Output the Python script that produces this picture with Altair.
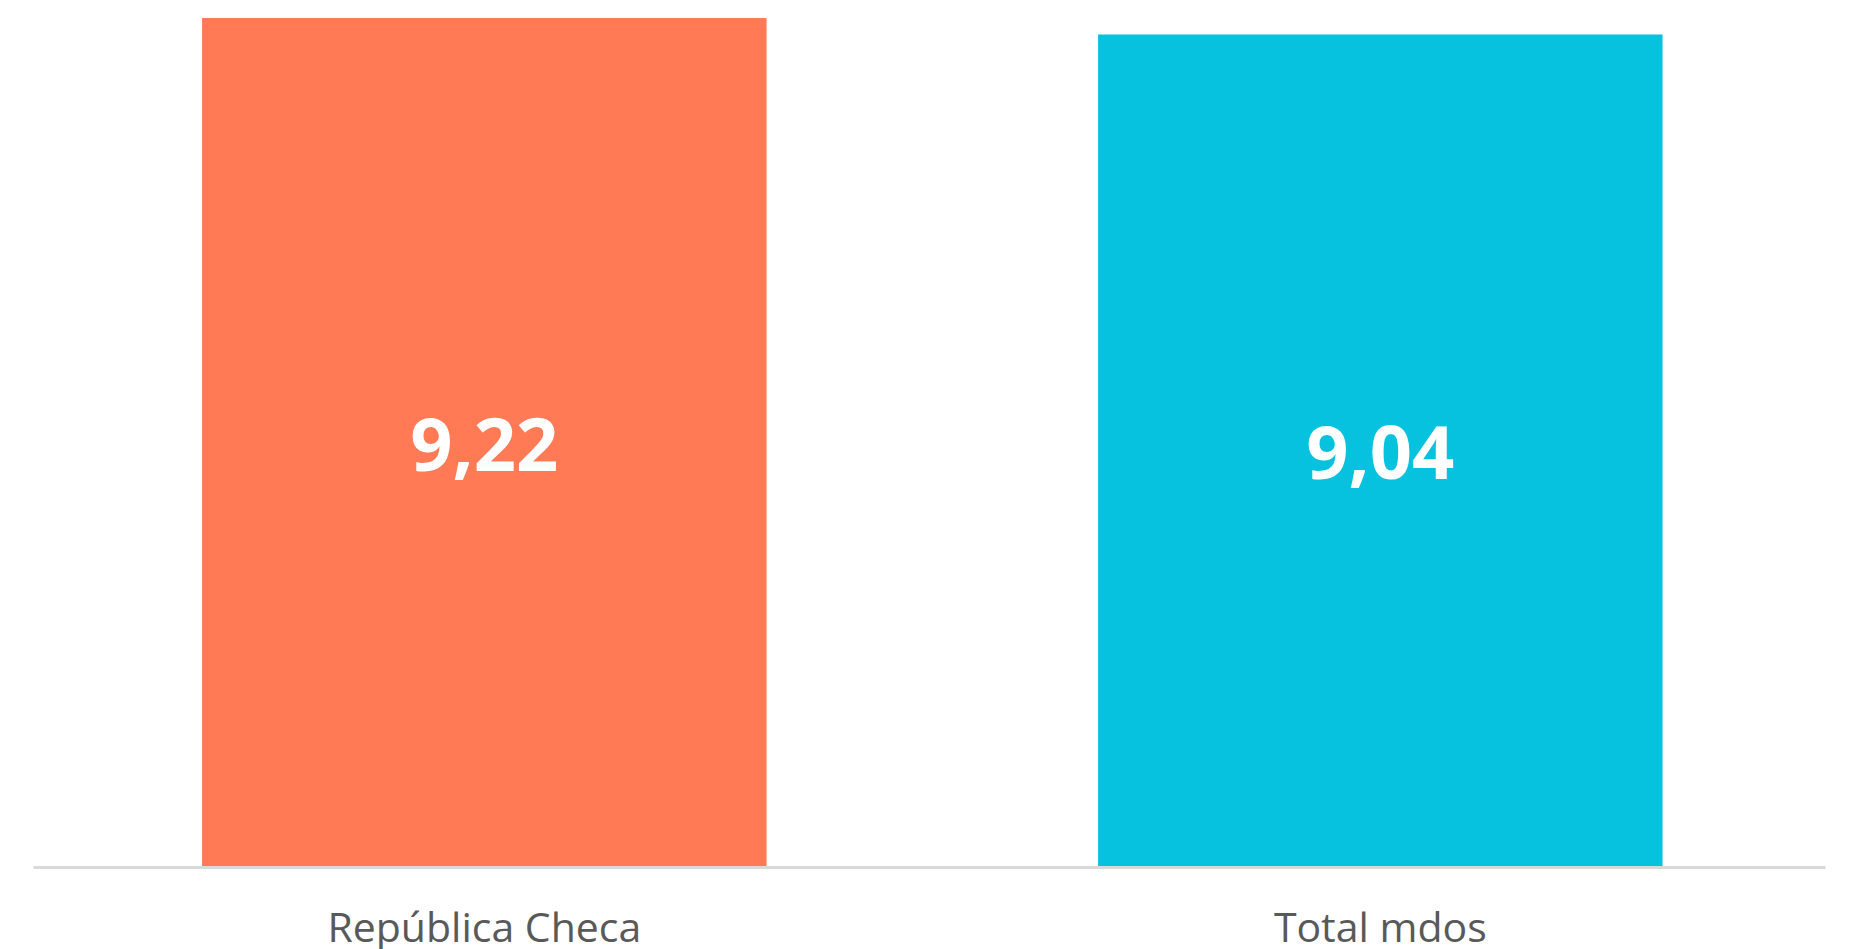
import altair as alt
import pandas as pd

categories = ["República Checa", "Total mdos"]
values = [9.22, 9.04]
labels = ["9,22", "9,04"]
colors = ["#FF7A55", "#06C2DE"]

df = pd.DataFrame({"cat": categories, "val": values, "lab": labels})
df["half"] = df["val"] / 2

x = alt.X("cat:N", sort=categories, title=None,
          scale=alt.Scale(paddingInner=0.37, paddingOuter=0.185, align=0.51),
          axis=alt.Axis(labelAngle=0, labelFontSize=41, labelFont="Open Sans",
                        labelColor="#595959", labelPadding=74, ticks=False, labelLimit=0,
                        domainColor="#d9d9d9", domainWidth=3, domainCap="butt",
                        labelBaseline="alphabetic", offset=1))
y_scale = alt.Scale(domain=[0, 9.22], nice=False, zero=True)

bars = alt.Chart(df).mark_bar().encode(
    x=x,
    y=alt.Y("val:Q", scale=y_scale, axis=None),
    color=alt.Color("cat:N", scale=alt.Scale(domain=categories, range=colors), legend=None),
)

text = alt.Chart(df).mark_text(color="white", fontSize=74, fontWeight="bold",
                               font="Open Sans", baseline="middle", align="center", dy=7).encode(
    x=alt.X("cat:N", sort=categories),
    y=alt.Y("half:Q", scale=y_scale, axis=None),
    text="lab:N",
)

chart = alt.layer(bars, text).properties(
    width=1792, height=848,
    autosize=alt.AutoSizeParams(type="none"),
    padding={"left": 25, "top": 10, "right": 19, "bottom": 100},
).configure(background="white").configure_view(strokeWidth=0, stroke="transparent")

chart.save("out.html", embed_options={"renderer": "svg", "actions": False})
